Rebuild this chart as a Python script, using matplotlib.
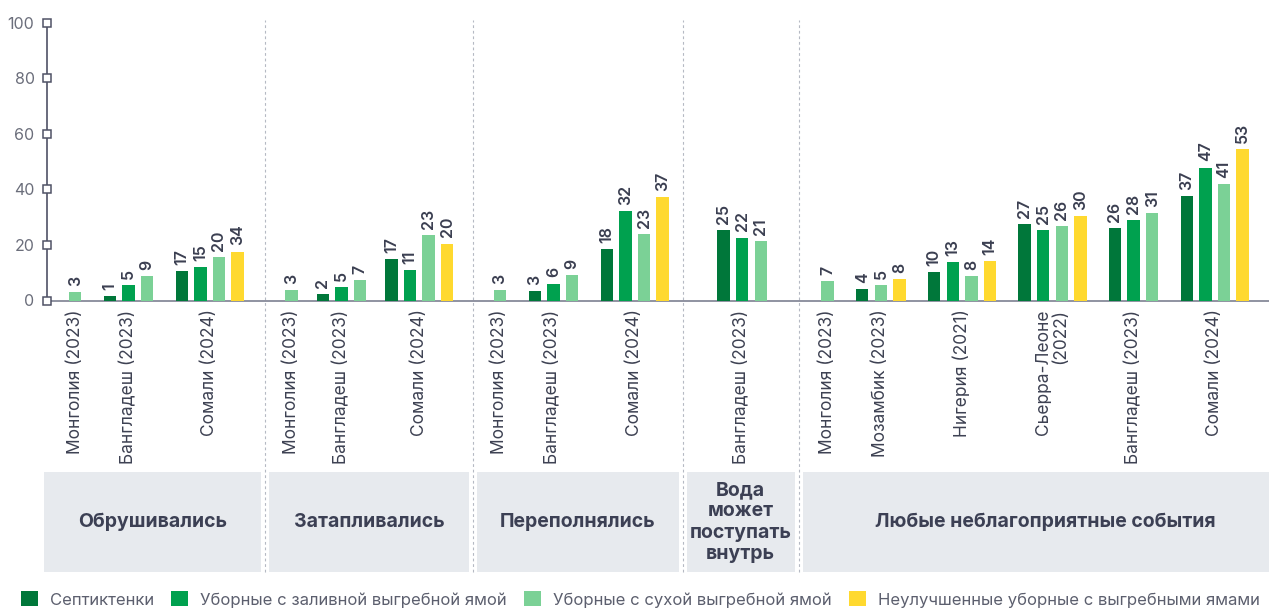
import matplotlib
matplotlib.use("Agg")
import matplotlib.pyplot as plt
from matplotlib.patches import Patch, Rectangle

plt.rcParams['font.family'] = ['Inter', 'DejaVu Sans']

# panels (header boxes) and categories
panels = ["Обрушивались", "Затапливались", "Переполнялись",
          "Вода\nможет\nпоступать\nвнутрь", "Любые неблагоприятные события"]
categories = ["Монголия (2023)", "Бангладеш (2023)", "Сомали (2024)",
              "Монголия (2023)", "Бангладеш (2023)", "Сомали (2024)",
              "Монголия (2023)", "Бангладеш (2023)", "Сомали (2024)",
              "Бангладеш (2023)",
              "Монголия (2023)", "Мозамбик (2023)", "Нигерия (2021)",
              "Сьерра-Леоне\n(2022)", "Бангладеш (2023)", "Сомали (2024)"]
cat_panel = [0, 0, 0, 1, 1, 1, 2, 2, 2, 3, 4, 4, 4, 4, 4, 4]

series_names = ["Септиктенки", "Уборные с заливной выгребной ямой",
                "Уборные с сухой выгребной ямой",
                "Неулучшенные уборные с выгребными ямами"]
colors = ["#00773a", "#00a14f", "#7bd196", "#ffd92f"]

# printed values
septic_val = [None, 1, 17, None, 2, 17, None, 3, 18, 25, None, 4, 10, 27, 26, 37]
flush_val = [None, 5, 15, None, 5, 11, None, 6, 32, 22, None, None, 13, 25, 28, 47]
dry_val = [3, 9, 20, 3, 7, 23, 3, 9, 23, 21, 7, 5, 8, 26, 31, 41]
pit_val = [None, None, 34, None, None, 20, None, None, 37, None, None, 8, 14, 30, None, 53]

# bar heights as drawn
septic_h = [None, 1.7, 10.6, None, 2.3, 14.8, None, 3.4, 18.5, 25.2, None, 4.0, 10.2, 27.5, 26.1, 37.7]
flush_h = [None, 5.6, 12.0, None, 4.9, 11.0, None, 6.1, 32.3, 22.6, None, None, 13.7, 25.4, 28.9, 47.8]
dry_h = [3.1, 8.9, 15.5, 3.6, 7.4, 23.5, 3.6, 9.2, 24.0, 21.5, 7.1, 5.4, 8.8, 26.8, 31.5, 41.9]
pit_h = [None, None, 17.6, None, None, 20.5, None, None, 37.3, None, None, 7.7, 14.3, 30.4, None, 54.4]

yticks = [0, 20, 40, 60, 80, 100]

heights = [septic_h, flush_h, dry_h, pit_h]
values = [septic_val, flush_val, dry_val, pit_val]

# layout, in bar-pitch units
left_pad = [1.52, 1.42, 1.47, 2.2, 1.56]
right_pad = [1.49, 1.36, 1.08, 2.03, 1.42]
group_gap = [0.86, 0.68, 0.875, 0.86, 0.86]
BAR_W = 0.666

bars = []      # (x, height, value, series)
centers = []
seps = [0.0]
x = 0.0
for p in range(len(panels)):
    cats = [i for i, cp in enumerate(cat_panel) if cp == p]
    x += left_pad[p]
    for k, i in enumerate(cats):
        if k > 0:
            x += 1 + group_gap[p]
        xs = []
        for s in range(4):
            if heights[s][i] is None:
                continue
            if xs:
                x += 1
            xs.append(x)
            bars.append((x, heights[s][i], values[s][i], s))
        centers.append(sum(xs) / len(xs))
    x += right_pad[p]
    seps.append(x)

W, H = 1269, 610
fig = plt.figure(figsize=(W / 100, H / 100), dpi=100)
ax_left = 47 / W
ax_w = 1 - ax_left
y0_px, y100_px = 300.5, 22.7
ax = fig.add_axes([ax_left, (H - y0_px) / H, ax_w, (y0_px - y100_px) / H])

for s in range(4):
    bx = [b[0] for b in bars if b[3] == s]
    bh = [b[1] for b in bars if b[3] == s]
    ax.bar(bx, bh, width=BAR_W, color=colors[s], zorder=3)

for bx, bh, bv, s in bars:
    ax.annotate(str(bv), (bx, bh), xytext=(0, 4.5), textcoords='offset points',
                rotation=90, ha='center', va='bottom', fontsize=11.5,
                fontweight='semibold', color='#3b3f51')

ax.set_xlim(0, seps[-1])
ax.set_ylim(0, 100)
ax.set_xticks([])
ax.set_yticks(yticks)
ax.tick_params(axis='y', length=0, pad=9, labelsize=11.5, labelcolor='#6b6e7b')
for sp in ['top', 'right']:
    ax.spines[sp].set_visible(False)
ax.spines['left'].set_color('#4f5266')
ax.spines['left'].set_linewidth(1.2)
ax.spines['bottom'].set_color('#7d8091')
ax.spines['bottom'].set_linewidth(1.2)
ax.plot([0] * len(yticks), yticks, 's', ms=5.2, mfc='white', mec='#4f5266',
        mew=1.1, clip_on=False, zorder=6)

# category labels
lab_off = 9 / (y0_px - y100_px)
for cx, name in zip(centers, categories):
    ax.text(cx, -lab_off, name, transform=ax.get_xaxis_transform(),
            rotation=90, ha='center', va='top', multialignment='right',
            fontsize=12.5, color='#3d4152', linespacing=1.0)

# dashed separators
top_f = (y0_px - 20) / (y0_px - y100_px)
bot_f = (y0_px - 572) / (y0_px - y100_px)
for sx in seps[1:-1]:
    ax.plot([sx, sx], [bot_f, top_f], transform=ax.get_xaxis_transform(),
            color='#b5b9c3', lw=0.8, ls=(0, (2.5, 2.5)), clip_on=False, zorder=1)

# header boxes
hax = fig.add_axes([ax_left, (H - 572) / H, ax_w, 100 / H])
hax.set_xlim(0, seps[-1])
hax.set_ylim(0, 1)
hax.axis('off')
inset = 4 / 18.62
for p, name in enumerate(panels):
    x0 = seps[p] + inset if p > 0 else -0.145
    x1 = seps[p + 1] - inset if p < len(panels) - 1 else seps[-1] + 1
    hax.add_patch(Rectangle((x0, 0), x1 - x0, 1, color='#e7eaee',
                            clip_on=False, lw=0))
    tx = (x0 + x1) / 2 if p < len(panels) - 1 else (x0 + seps[-1]) / 2 + 0.5
    hax.text(tx, 0.5, name, ha='center', va='center',
             fontsize=14, fontweight='bold', color='#3c4054', linespacing=1.24)

# legend
handles = [Patch(facecolor=c, edgecolor='none') for c in colors]
fig.legend(handles, series_names, loc='center left',
           bbox_to_anchor=(21 / W, 1 - 599.5 / H), ncol=4, frameon=False,
           fontsize=12, handlelength=1.0, handleheight=1.0, handletextpad=0.72,
           columnspacing=1.05, borderpad=0, borderaxespad=0, labelcolor='#5c5f6e')

fig.savefig('out.png', dpi=100)
